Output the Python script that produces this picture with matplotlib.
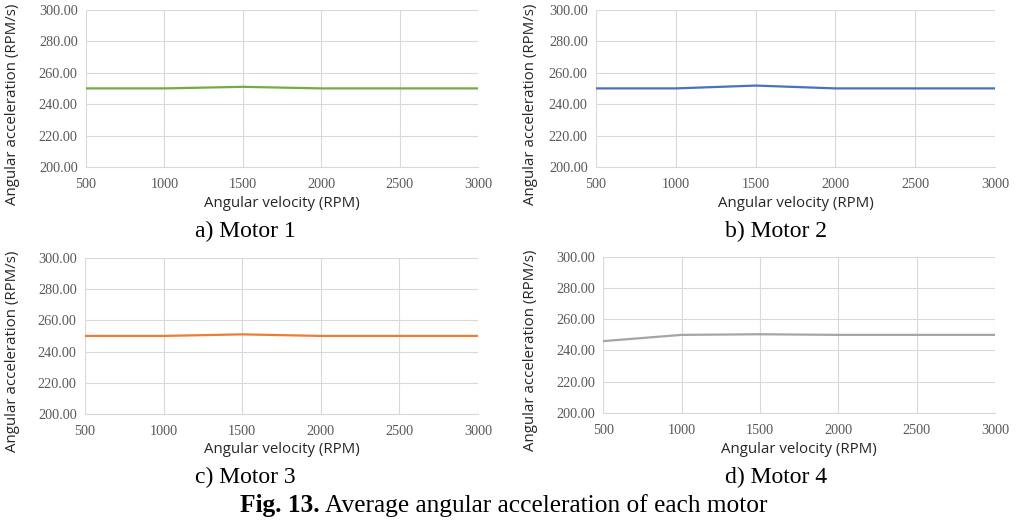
import matplotlib
matplotlib.use("Agg")
import matplotlib.pyplot as plt

speeds = [500, 1000, 1500, 2000, 2500, 3000]
motor1 = [250.0, 250.0, 251.0, 250.0, 250.0, 250.0]
motor2 = [250.0, 250.0, 251.8, 250.0, 250.0, 250.0]
motor3 = [250.0, 250.0, 251.0, 250.0, 250.0, 250.0]
motor4 = [246.0, 250.0, 250.4, 250.0, 250.0, 250.0]
captions = ["a) Motor 1", "b) Motor 2", "c) Motor 3", "d) Motor 4"]
colors = ["#70AD47", "#4472C4", "#ED7D31", "#A5A5A5"]
yticks = [200, 220, 240, 260, 280, 300]

fig = plt.figure(figsize=(10.18, 5.2), dpi=100)

# [left, bottom, width, height] in figure fraction
boxes = [
    [0.0845, 0.679, 0.385, 0.302],
    [0.5855, 0.679, 0.392, 0.302],
    [0.0835, 0.204, 0.386, 0.300],
    [0.5925, 0.206, 0.385, 0.300],
]
ylab_x = [0.012, 0.521, 0.012, 0.521]
xlab_y = [0.609, 0.609, 0.135, 0.135]
cap_pos = [(0.241, 0.555), (0.762, 0.555), (0.241, 0.082), (0.762, 0.082)]

series = [motor1, motor2, motor3, motor4]
for i in range(4):
    ax = fig.add_axes(boxes[i])
    ax.plot(speeds, series[i], color=colors[i], linewidth=1.6)
    ax.set_xlim(500, 3000)
    ax.set_ylim(200, 300)
    ax.set_yticks(yticks)
    ax.set_yticklabels([f"{v:.2f}" for v in yticks])
    ax.set_xticks(speeds)
    ax.grid(True, color="#D9D9D9", linewidth=0.8)
    ax.set_axisbelow(True)
    for s in ["top", "right", "left"]:
        ax.spines[s].set_visible(False)
    ax.spines["bottom"].set_color("#D9D9D9")
    ax.tick_params(length=0, labelsize=10.3, labelcolor="#595959")
    ax.tick_params(axis="x", pad=8)
    ax.tick_params(axis="y", pad=6)
    for lab in ax.get_xticklabels() + ax.get_yticklabels():
        lab.set_family("Liberation Serif")
    cx = boxes[i][0] + boxes[i][2] / 2
    fig.text(cx, xlab_y[i], "Angular velocity (RPM)", ha="center", va="center",
             fontsize=10.8, family="Open Sans", color="#262626")
    cy = boxes[i][1] + boxes[i][3] / 2 - 0.03
    fig.text(ylab_x[i], cy, "Angular acceleration (RPM/s)", ha="center", va="center",
             rotation=90, fontsize=10.8, family="Open Sans", color="#262626")
    fig.text(cap_pos[i][0], cap_pos[i][1], captions[i], ha="center", va="center",
             fontsize=17, family="Liberation Serif")

bold = fig.text(240 / 1018, 0.027, "Fig. 13.", ha="left", va="center", fontsize=18.3,
                family="Liberation Serif", fontweight="bold")
fig.canvas.draw()
ext = bold.get_window_extent()
fig.text((ext.x1 + 5) / 1018, 0.027, "Average angular acceleration of each motor",
         ha="left", va="center", fontsize=18.3, family="Liberation Serif")

fig.savefig("out.png", dpi=100)
